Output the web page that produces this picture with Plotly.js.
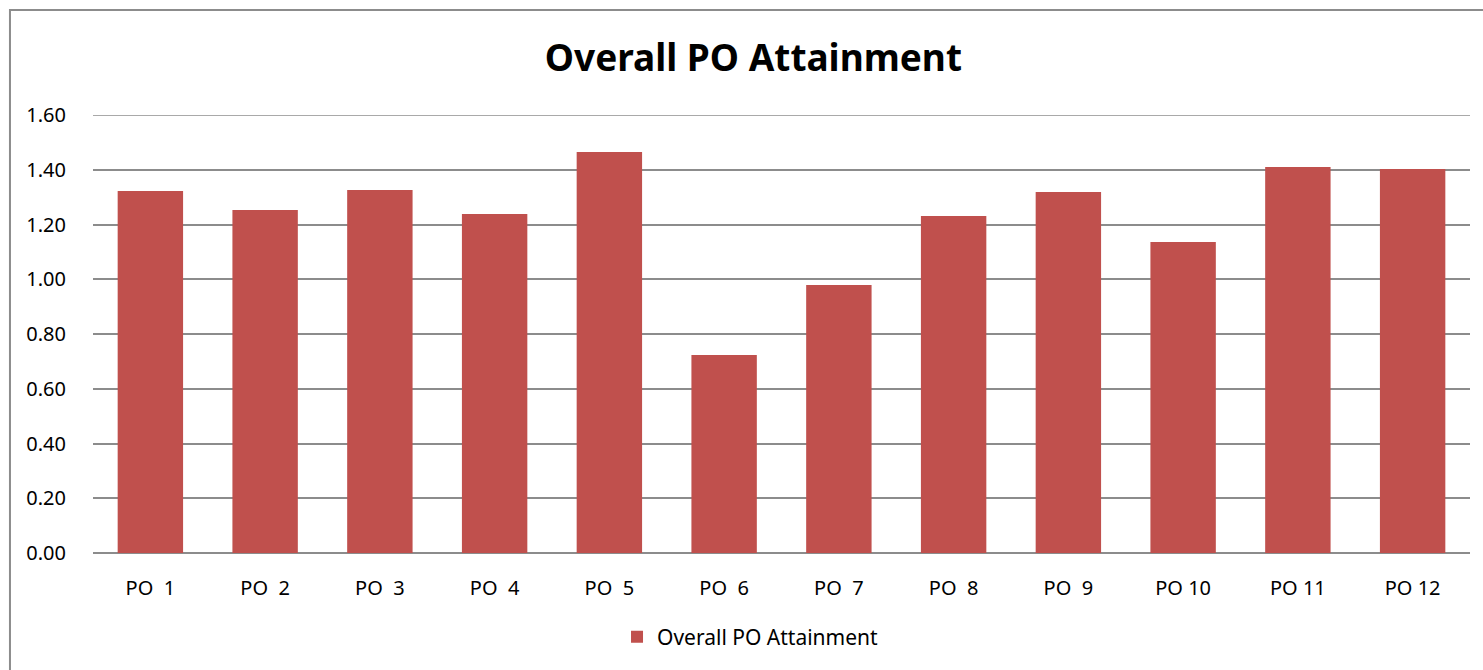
<!DOCTYPE html>
<html>
<head>
<meta charset="utf-8">
<script src="https://cdn.plot.ly/plotly-3.0.1.min.js"></script>
<style>html,body{margin:0;padding:0;background:#fff;}#chart{width:1483px;height:670px;}</style>
</head>
<body>
<div id="chart"></div>
<script>
const categories = ["PO\u00a0\u00a01","PO\u00a0\u00a02","PO\u00a0\u00a03","PO\u00a0\u00a04","PO\u00a0\u00a05","PO\u00a0\u00a06","PO\u00a0\u00a07","PO\u00a0\u00a08","PO\u00a0\u00a09","PO 10","PO 11","PO 12"];
const attainment = [1.322, 1.253, 1.326, 1.238, 1.465, 0.723, 0.979, 1.231, 1.319, 1.136, 1.410, 1.403];
const seriesName = "Overall PO Attainment";
const yTicks = [0, 0.2, 0.4, 0.6, 0.8, 1.0, 1.2, 1.4, 1.6];
const yTickLabels = ["0.00","0.20","0.40","0.60","0.80","1.00","1.20","1.40","1.60"];

const font = "Noto Sans, Open Sans, DejaVu Sans, sans-serif";
const yMax = yTicks[yTicks.length - 1];

Plotly.newPlot("chart", [{
  type: "bar",
  x: categories,
  y: attainment,
  name: seriesName,
  marker: {color: "#C0504D"},
  showlegend: true,
  hoverinfo: "x+y"
}], {
  width: 1483,
  height: 670,
  margin: {l: 93, r: 13, t: 115, b: 117, pad: 0},
  paper_bgcolor: "#fff",
  plot_bgcolor: "#fff",
  bargap: 0.43,
  title: {
    text: "<b>Overall PO Attainment</b>",
    font: {family: font, size: 37, color: "#000"},
    x: 0.508, xanchor: "center",
    y: 0.913, yanchor: "middle"
  },
  xaxis: {
    type: "category",
    showgrid: false,
    showline: false,
    zeroline: false,
    ticks: "outside",
    ticklen: 17,
    tickcolor: "rgba(0,0,0,0)",
    tickfont: {family: font, size: 20, color: "#000"}
  },
  yaxis: {
    range: [0, yMax],
    tickvals: yTicks,
    ticktext: yTickLabels,
    showgrid: true,
    gridcolor: "#8c8c8c",
    gridwidth: 1.5,
    zeroline: true,
    zerolinecolor: "#8c8c8c",
    zerolinewidth: 1.5,
    showline: false,
    ticks: "outside",
    ticklen: 22,
    tickcolor: "rgba(0,0,0,0)",
    tickfont: {family: font, size: 20, color: "#000"}
  },
  legend: {
    orientation: "h",
    x: 0.4775, xanchor: "center",
    y: -0.192, yanchor: "middle",
    font: {family: font, size: 21, color: "#000"}
  },
  shapes: [{
    type: "rect", xref: "paper", yref: "paper",
    x0: -0.0603, x1: 1.2, y0: -0.6, y1: 1.2397,
    line: {color: "#8c8c8c", width: 2},
    fillcolor: "rgba(0,0,0,0)",
    layer: "below"
  }, {
    type: "line", xref: "paper", yref: "y",
    x0: 0, x1: 1, y0: yMax, y1: yMax,
    line: {color: "#8c8c8c", width: 1.5},
    layer: "below"
  }]
}, {displayModeBar: false, staticPlot: false});
</script>
</body>
</html>
